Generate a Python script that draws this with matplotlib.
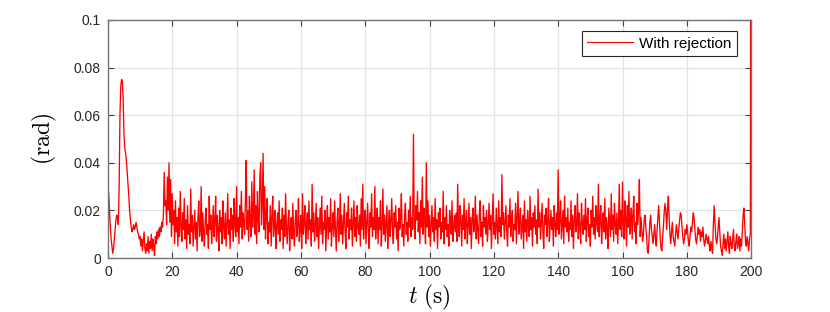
import numpy as np
import matplotlib
matplotlib.use('Agg')
import matplotlib.pyplot as plt
from matplotlib.ticker import FixedLocator, FixedFormatter

# sample step of the recorded signal (s)
dt = 0.25

# angle error in mrad
# start-up transient, t = 0 .. 17.75 s
err_start = [30, 27, 20, 13, 8, 5, 2, 4, 8, 12, 16, 18, 17, 14, 30, 60, 72, 75, 74, 66,
             52, 46, 44, 41, 36, 31, 26, 20, 16, 13, 11, 12, 14, 12, 13, 15, 13, 11, 10, 8,
             9, 5, 8, 3, 7, 11, 4, 2, 6, 3, 9, 2, 7, 4, 10, 3, 8, 5, 1, 9,
             6, 11, 8, 12, 9, 13, 11, 15, 13, 18, 36, 22]

# steady noisy part, t = 18 .. 165.75 s
err_mid = [
    24, 14, 34, 20, 40, 15, 33, 9, 27, 14, 20, 6, 24, 11, 17, 5, 21, 9, 28, 13,
    7, 19, 12, 25, 8, 16, 4, 22, 10, 14, 6, 29, 11, 18, 5, 13, 20, 8, 15, 3,
    17, 24, 9, 12, 30, 7, 19, 11, 5, 16, 21, 10, 14, 4, 26, 12, 18, 6, 13, 22,
    9, 15, 26, 7, 18, 12, 3, 20, 11, 17, 6, 24, 13, 8, 19, 5, 14, 27, 10, 16,
    4, 21, 12, 18, 7, 25, 14, 9, 30, 11, 17, 6, 22, 13, 28, 8, 19, 15, 10, 24,
    41, 12, 20, 7, 26, 15, 9, 32, 13, 19, 37, 10, 22, 6, 28, 16, 11, 34, 40, 14,
    21, 44, 12, 30, 8, 18, 25, 6, 15, 11, 22, 5, 17, 26, 9, 14, 20, 4, 13, 19,
    10, 24, 7, 16, 12, 21, 4, 18, 9, 27, 13, 6, 15, 20, 3, 12, 17, 8, 23, 11,
    5, 16, 20, 9, 14, 25, 7, 12, 18, 4, 27, 10, 15, 22, 6, 13, 19, 8, 24, 12,
    16, 5, 31, 11, 19, 7, 14, 23, 9, 17, 4, 13, 21, 10, 26, 6, 15, 12, 20, 3,
    14, 22, 8, 17, 11, 25, 5, 13, 19, 9, 24, 12, 3, 16, 21, 7, 14, 27, 10, 18,
    6, 15, 23, 11, 4, 19, 13, 26, 8, 16, 12, 21, 5, 14, 24, 9, 17, 7, 22, 13,
    10, 18, 5, 25, 12, 31, 8, 16, 20, 6, 14, 23, 11, 4, 19, 13, 27, 9, 17, 12,
    30, 8, 15, 21, 6, 17, 12, 24, 5, 13, 29, 10, 18, 7, 15, 22, 4, 14, 20, 9,
    16, 25, 11, 6, 19, 13, 22, 8, 15, 3, 21, 12, 17, 27, 9, 14, 5, 18, 23, 10,
    15, 7, 20, 13, 26, 9, 17, 12, 52, 14, 8, 22, 16, 28, 11, 19, 6, 24, 13, 34,
    10, 21, 15, 6, 40, 13, 24, 9, 18, 5, 14, 22, 11, 17, 7, 25, 12, 16, 4, 19,
    13, 21, 8, 15, 11, 28, 6, 17, 12, 22, 9, 14, 5, 20, 16, 10, 24, 7, 13, 18,
    11, 19, 7, 31, 14, 9, 22, 16, 5, 18, 12, 25, 8, 15, 20, 6, 13, 23, 10, 17,
    4, 16, 21, 11, 14, 26, 8, 18, 12, 6, 19, 24, 9, 15, 5, 22, 13, 17, 10, 20,
    7, 14, 23, 12, 18, 4, 16, 27, 10, 15, 8, 21, 13, 6, 24, 11, 17, 9, 35, 14,
    19, 8, 15, 22, 11, 5, 18, 13, 25, 9, 16, 20, 7, 14, 12, 23, 6, 17, 28, 10,
    15, 21, 8, 13, 18, 4, 24, 11, 16, 7, 20, 14, 9, 26, 12, 17, 5, 19, 13, 22,
    10, 16, 6, 29, 13, 19, 8, 15, 23, 11, 4, 18, 14, 21, 9, 16, 25, 7, 13, 20,
    12, 17, 5, 22, 14, 9, 19, 12, 37, 10, 16, 24, 8, 14, 20, 6, 26, 13, 17, 11,
    21, 7, 15, 12, 24, 9, 18, 4, 16, 22, 11, 14, 27, 8, 19, 13, 6, 23, 15, 10,
    18, 12, 25, 7, 16, 21, 9, 14, 5, 20, 13, 26, 10, 17, 8, 22, 15, 11, 31, 9,
    16, 22, 6, 14, 19, 11, 25, 8, 17, 13, 4, 21, 15, 9, 27, 12, 18, 7, 23, 14,
    10, 19, 6, 15, 31, 12, 20, 9, 32, 14, 8, 24, 17, 5, 22, 13, 28, 10, 16, 21,
    8, 18, 26, 11, 15, 6, 23, 14, 20, 33, 9, 17]

# calmer tail, t = 166 .. 199.75 s
err_end = [
    12, 7, 10, 16, 18, 13, 9, 3, 2, 8, 15, 18, 12, 9, 6, 10, 14, 8, 5, 12,
    17, 22, 15, 8, 4, 3, 9, 14, 20, 23, 19, 12, 21, 26, 17, 10, 6, 11, 15, 9,
    7, 5, 10, 14, 11, 8, 12, 16, 19, 18, 13, 9, 6, 8, 12, 10, 14, 11, 7, 5,
    9, 13, 11, 15, 19, 17, 12, 8, 6, 9, 13, 10, 12, 7, 11, 9, 13, 8, 5, 7,
    10, 8, 6, 9, 5, 3, 7, 4, 2, 14, 22, 15, 9, 6, 8, 13, 17, 11, 5, 3,
    1, 6, 10, 4, 8, 3, 7, 11, 5, 2, 9, 6, 4, 8, 12, 5, 3, 7, 10, 4,
    6, 9, 3, 8, 5, 11, 18, 21, 14, 7, 5, 9, 6, 3, 8, 10]

# last sample jumps off the top of the axes at t = 200 s
err_last = [300]

x_ticks = [0, 20, 40, 60, 80, 100, 120, 140, 160, 180, 200]
y_ticks = [0, 0.02, 0.04, 0.06, 0.08, 0.1]
y_tick_labels = ['0', '0.02', '0.04', '0.06', '0.08', '0.1']

err = np.array(err_start + err_mid + err_end + err_last) * 1e-3
t = np.arange(len(err)) * dt

plt.rcParams['font.family'] = ['Liberation Sans', 'DejaVu Sans']
plt.rcParams['mathtext.fontset'] = 'cm'

fig = plt.figure(figsize=(8.3, 3.12), dpi=100)
ax = fig.add_axes([0.130, 0.173, 0.775, 0.763])

ax.plot(t, err, color='red', linewidth=0.95, label='With rejection')

ax.set_xlim(0, 200)
ax.set_ylim(0, 0.1)
ax.xaxis.set_major_locator(FixedLocator(x_ticks))
ax.yaxis.set_major_locator(FixedLocator(y_ticks))
ax.yaxis.set_major_formatter(FixedFormatter(y_tick_labels))
ax.grid(True, color='#e3e3e3', linewidth=0.9)
ax.set_axisbelow(True)

axis_gray = '#737373'
for s in ax.spines.values():
    s.set_color(axis_gray)
    s.set_linewidth(1.0)
ax.tick_params(direction='in', top=True, right=True, length=4, width=0.8,
               color='#404040', labelsize=10, labelcolor='#262626', pad=5)

ax.set_xlabel(r'$t\ (\mathrm{s})$', fontsize=17, labelpad=3)
ax.set_ylabel(r'$(\mathrm{rad})$', fontsize=17, labelpad=11)

leg = ax.legend(loc='upper right', bbox_to_anchor=(0.983, 0.965), fontsize=11,
                fancybox=False, framealpha=1, edgecolor='#262626',
                handlelength=3.0, borderpad=0.35, handletextpad=0.4,
                borderaxespad=0.2)
leg.get_frame().set_linewidth(0.8)
for line in leg.get_lines():
    line.set_linewidth(0.8)

fig.savefig('out.png', dpi=100)
